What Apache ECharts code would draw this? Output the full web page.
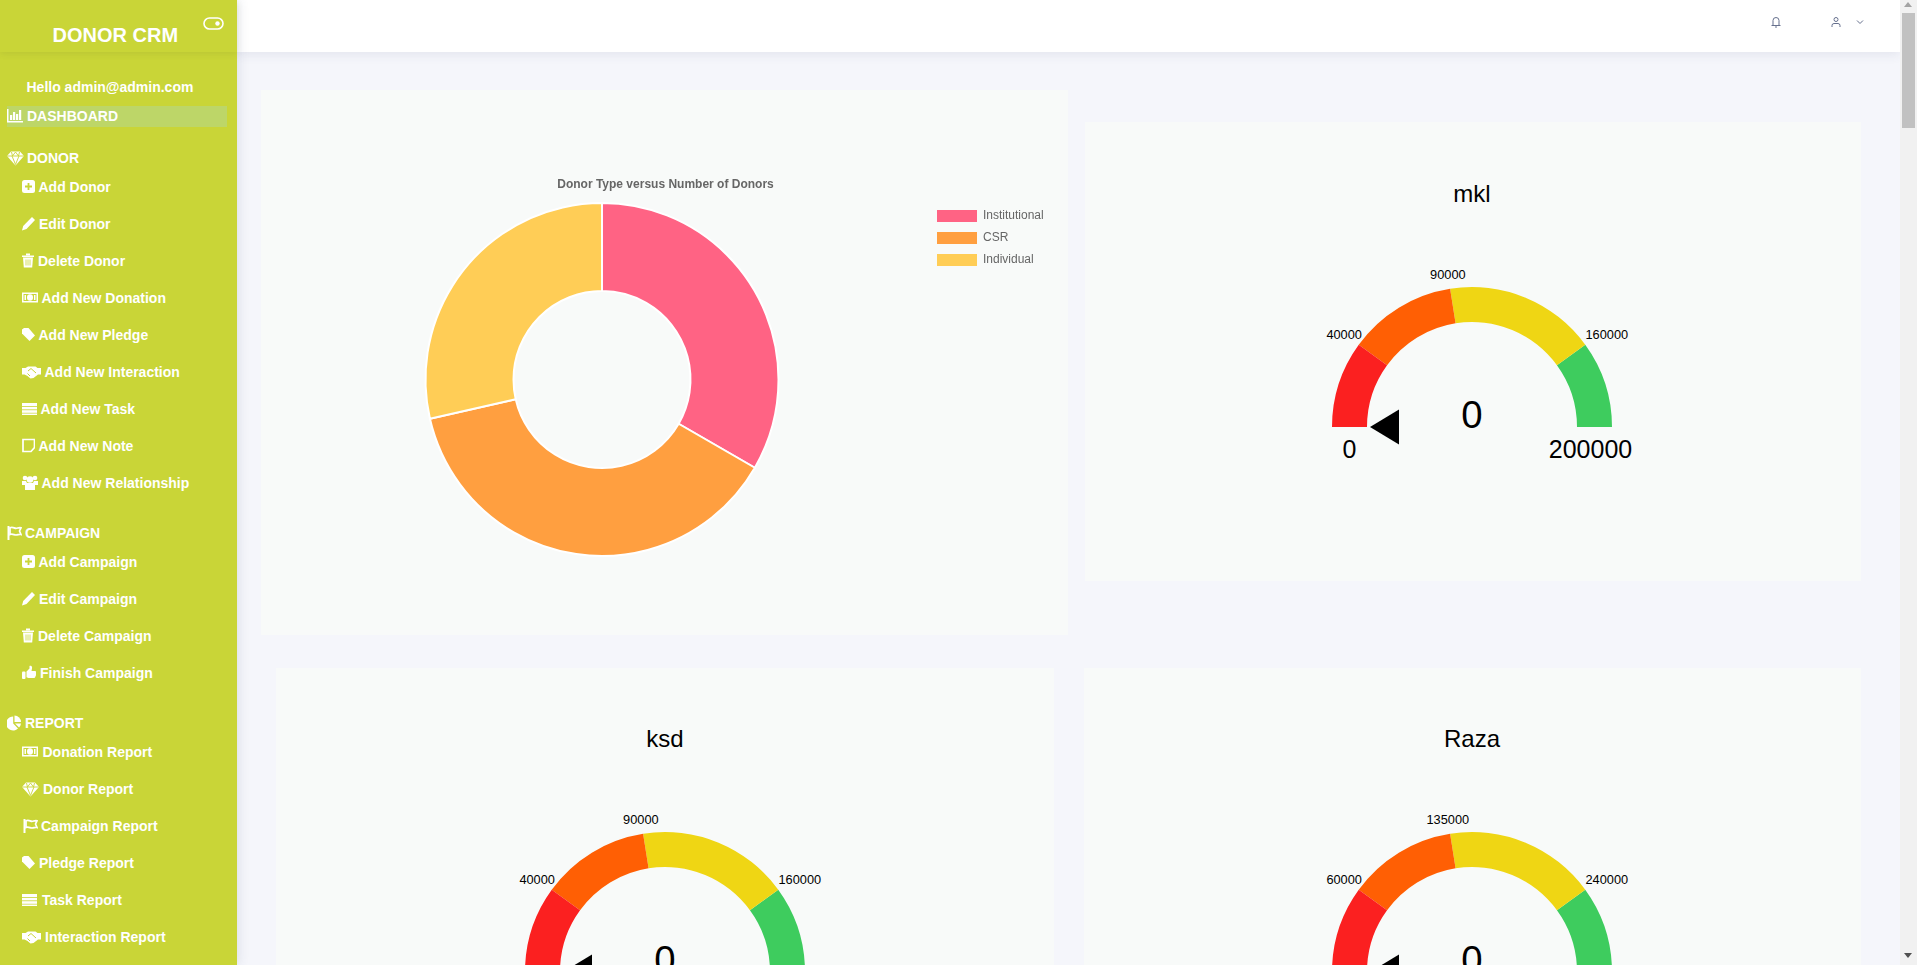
<!DOCTYPE html>
<html>
<head>
<meta charset="utf-8">
<title>DONOR CRM</title>
<script src="https://cdn.jsdelivr.net/npm/echarts@6/dist/echarts.min.js"></script>
<style>
html, body { margin: 0; padding: 0; background: #fff; overflow: hidden; }
body { width: 1917px; height: 969px; position: relative; font-family: "Liberation Sans", Arial, sans-serif; }
#page { position: absolute; left: 0; top: 0; width: 1917px; height: 965px; overflow: hidden; background: #f5f6fb; }
.sidebar { position: absolute; left: 0; top: 0; width: 237px; height: 965px; background: #c9d537; box-shadow: 2px 0 10px rgba(60, 70, 110, .12); z-index: 3; }
.side-head { position: absolute; left: 0; top: 0; width: 237px; height: 52px; background: #c9d537; box-shadow: 0 2px 6px rgba(90, 100, 40, .12); }
.brand { position: absolute; left: 52.5px; top: 23px; font-size: 20px; line-height: 24px; font-weight: bold; color: #fff; }
.active-row { position: absolute; left: 7px; top: 106px; width: 220px; height: 21px; background: #bdd668; }
.nav-text { position: absolute; font-size: 14px; line-height: 18px; font-weight: bold; color: #fff; white-space: nowrap; transform: translateY(-50%); }
.nav-icon { position: absolute; fill: #fff; transform: translateY(-50%); }
.topbar { position: absolute; left: 237px; top: 0; width: 1663px; height: 52px; background: #fff; box-shadow: 0 3px 10px rgba(60, 70, 110, .09); z-index: 2; }
.card { position: absolute; background: #f8faf9; }
.chart { width: 100%; height: 100%; }
.scrollbar { position: absolute; left: 1900px; top: 0; width: 17px; height: 965px; background: #f1f1f1; z-index: 4; }
.thumb { position: absolute; left: 2px; top: 13px; width: 13px; height: 115px; background: #c1c1c1; }
.arrow { position: absolute; left: 4px; width: 0; height: 0; border-left: 4.5px solid transparent; border-right: 4.5px solid transparent; }
.up { top: 2px; border-bottom: 5px solid #a3a3a3; }
.down { top: 953px; border-top: 5px solid #505050; }
</style>
</head>
<body>
<div id="page">
  <div class="sidebar" id="sidebar">
    <div class="side-head"></div>
    <div class="brand">DONOR CRM</div>
    <svg style="position:absolute;left:203px;top:16px" width="21" height="15" viewBox="0 0 21 15">
      <rect x="1" y="2" width="19" height="11" rx="5.5" fill="none" stroke="#fff" stroke-width="1.6"/>
      <circle cx="14.5" cy="7.5" r="2.2" fill="#fff"/>
    </svg>
    <div class="active-row"></div>
  </div>
  <div class="topbar">
    <svg style="position:absolute;left:1533px;top:16px" width="12" height="12" viewBox="0 0 12 12" fill="none" stroke="#67718e" stroke-width="1">
      <path d="M3 9V4.5a3 3 0 0 1 6 0V9M1.5 9.5h9M5 11h2"/>
    </svg>
    <svg style="position:absolute;left:1593px;top:16px" width="12" height="12" viewBox="0 0 12 12" fill="none" stroke="#67718e" stroke-width="1">
      <circle cx="6" cy="3.5" r="2"/><path d="M2 11V9.5a2 2 0 0 1 2-2h4a2 2 0 0 1 2 2V11"/>
    </svg>
    <svg style="position:absolute;left:1619px;top:19px" width="8" height="6" viewBox="0 0 8 6" fill="none" stroke="#67718e" stroke-width="1">
      <path d="M1 1.5l3 3 3-3"/>
    </svg>
  </div>
  <div class="card" style="left:261px;top:90px;width:807px;height:545px"><div class="chart" id="donorPie"></div></div>
  <div class="card" style="left:1085px;top:122px;width:776px;height:459px"><div class="chart" id="gauge0"></div></div>
  <div class="card" style="left:276px;top:668px;width:778px;height:459px"><div class="chart" id="gauge1"></div></div>
  <div class="card" style="left:1084px;top:668px;width:777px;height:459px"><div class="chart" id="gauge2"></div></div>
  <div class="scrollbar"><div class="arrow up"></div><div class="thumb"></div><div class="arrow down"></div></div>
</div>
<script>
// chart data
var donorTypes = ['Institutional', 'CSR', 'Individual'];
var donorCounts = [7, 8, 6];
var donorColors = ['#ff6384', '#ff9f40', '#ffcd56'];

var gaugeNames = ['mkl', 'ksd', 'Raza'];
var gaugeValues = [0, 0, 0];
var gaugeMax = [200000, 200000, 300000];
var gaugeStops = [
    [40000, 90000, 160000],
    [40000, 90000, 160000],
    [60000, 135000, 240000]
];
var gaugeColors = ['#fb2020', '#ff5f04', '#efd614', '#3ecc5e'];

// sidebar: label, icon, y, icon x, icon width, text x
var navItems = [
    ['Hello admin@admin.com', null, 87, 0, 0, 26.5],
    ['DASHBOARD', 'chart', 116, 7, 16, 27],
    ['DONOR', 'gem', 158, 7, 17, 27],
    ['Add Donor', 'plus', 187, 22, 13, 38.5],
    ['Edit Donor', 'pencil', 224, 22, 13, 39],
    ['Delete Donor', 'trash', 261, 22, 12, 38],
    ['Add New Donation', 'money', 298, 22, 16, 41.5],
    ['Add New Pledge', 'tag', 335, 22, 13, 38.5],
    ['Add New Interaction', 'hands', 372, 22, 19, 44.5],
    ['Add New Task', 'list', 409, 22, 15, 40.5],
    ['Add New Note', 'note', 446, 22, 13, 38.5],
    ['Add New Relationship', 'users', 483, 22, 16, 41.5],
    ['CAMPAIGN', 'flag', 533, 7, 15, 25],
    ['Add Campaign', 'plus', 562, 22, 13, 38.5],
    ['Edit Campaign', 'pencil', 599, 22, 13, 39],
    ['Delete Campaign', 'trash', 636, 22, 12, 38],
    ['Finish Campaign', 'thumb', 673, 22, 14, 40],
    ['REPORT', 'pie', 723, 7, 14, 25],
    ['Donation Report', 'money', 752, 22, 16, 42.5],
    ['Donor Report', 'gem', 789, 22, 17, 43],
    ['Campaign Report', 'flag', 826, 23, 15, 41],
    ['Pledge Report', 'tag', 863, 22, 13, 39],
    ['Task Report', 'list', 900, 22, 15, 42],
    ['Interaction Report', 'hands', 937, 22, 19, 45]
];

var icons = {
    chart: '<path d="M0 1h1.5v12H16v1.500H0z"/><rect x="3" y="7" width="2.200" height="5"/><rect x="6" y="4" width="2.200" height="8"/><rect x="9" y="6" width="2.200" height="6"/><rect x="12" y="2" width="2.200" height="10"/>',
    gem: '<path d="M4 1.500h9l4 4.500-8.500 9.500L0 6z"/><path d="M0 6h17M5 6l3.500 8.500L12 6M4.500 2l1 4 3-4 3 4 1-4" fill="none" stroke="#c9d537" stroke-width=".9"/>',
    plus: '<rect x="0" y="1" width="13" height="13" rx="2.500"/><path d="M6.500 4v7M3 7.500h7" stroke="#c9d537" stroke-width="1.800"/>',
    pencil: '<path d="M10 1l3 3-8.500 9L0 14.500 1.200 10z"/>',
    trash: '<rect x="0" y="2.500" width="12" height="1.500"/><rect x="4" y="0.500" width="4" height="2"/><path d="M1 4.500h10l-.8 10H1.800z"/><path d="M4 6.500v6M6 6.500v6M8 6.500v6" stroke="#c9d537" stroke-width=".8"/>',
    money: '<path d="M0 2.500h16v10H0zM1.500 4v7h13V4z" fill-rule="evenodd"/><ellipse cx="8" cy="7.500" rx="3" ry="3.300"/><rect x="2.500" y="5" width="1.500" height="5"/><rect x="12" y="5" width="1.500" height="5"/>',
    tag: '<path d="M0 2.500 2 1h4.500L13 8.500 7.500 14 0 6.500z"/>',
    hands: '<path d="M0 4h3.500l2.500-1.500h5l2.500 0 2 1.500h3.500v6.500H16l-4.500 3.500-3 .5-3-2.500-3-1.500H0z"/><path d="M6 7l3-2.500 5 4.500M5.500 9.500 8 12" fill="none" stroke="#c9d537" stroke-width="1"/>',
    list: '<rect x="0" y="2" width="15" height="3"/><rect x="0" y="5.800" width="15" height="2.600"/><rect x="0" y="9.200" width="15" height="2.600"/><rect x="0" y="12.500" width="15" height="1.500"/>',
    note: '<path d="M1 1.500h11.500v8l-3.500 4h-8z" fill="none" stroke="#fff" stroke-width="1.700"/>',
    users: '<circle cx="3" cy="3" r="2.300"/><circle cx="13" cy="3" r="2.300"/><circle cx="8" cy="4.500" r="3.300"/><path d="M0 6h4l1 2h6l1-2h4v4h-3v5H3v-5H0z"/>',
    flag: '<path d="M.5 1h2v14h-2z"/><path d="M3 2.800c3-1.500 4.500 1 6.500.5s3-1 4.500-.5l-1.500 3.200 1.500 3.500c-2-.5-3 .5-5 .5s-3.500-1.500-6-.5z" fill="none" stroke="#fff" stroke-width="1.700"/>',
    thumb: '<rect x="0" y="6.500" width="3.500" height="7.500" rx="1"/><path d="M4.500 6.500 7.500 3.500V1c1.500-.5 3 .5 2.500 2.500l-.5 2.500h3.500c1.500 0 1.500 2 1 2.500.5 1 .3 2-.5 2.500 0 1-.5 1.500-1 2H6.500l-2-.8z"/>',
    pie: '<path d="M6.200 1.500v7l4.800 5A7 7 0 1 1 6.200 1.500z"/><path d="M7.500.5a6.500 6.500 0 0 1 6.500 6.500H7.500z"/><path d="M8 8.500h6a7 7 0 0 1-2 4z"/>'
};

var sidebar = document.getElementById('sidebar');
navItems.forEach(function(item) {
    var html = '<div class="nav-text" style="left:' + item[5] + 'px;top:' + item[2] + 'px">' + item[0] + '</div>';
    if (item[1]) {
        html += '<svg class="nav-icon" style="left:' + item[3] + 'px;top:' + item[2] + 'px" width="' + item[4] + '" height="16" viewBox="0 0 ' + item[4] + ' 16">' + icons[item[1]] + '</svg>';
    }
    sidebar.insertAdjacentHTML('beforeend', html);
});

var fontName = '"Liberation Sans", Arial, sans-serif';

var pieChart = echarts.init(document.getElementById('donorPie'));
pieChart.setOption({
    animation: false,
    title: {
        text: 'Donor Type versus Number of Donors',
        left: 404.5,
        top: 89,
        padding: 0,
        textAlign: 'center',
        textStyle: { fontFamily: fontName, fontSize: 12, fontWeight: 'bold', color: '#666' }
    },
    legend: {
        orient: 'vertical',
        left: 676,
        top: 120,
        icon: 'rect',
        itemWidth: 40,
        itemHeight: 12,
        itemGap: 10,
        padding: 0,
        itemStyle: { borderWidth: 0 },
        textStyle: { fontFamily: fontName, fontSize: 12, color: '#666', padding: [0, 0, 0, 1] },
        data: donorTypes
    },
    series: [{
        type: 'pie',
        center: [341, 289.5],
        radius: [88.5, 176.5],
        startAngle: 90,
        clockwise: true,
        label: { show: false },
        labelLine: { show: false },
        itemStyle: { borderColor: '#fff', borderWidth: 2 },
        data: donorTypes.map(function(name, i) {
            return { name: name, value: donorCounts[i], itemStyle: { color: donorColors[i] } };
        })
    }]
});

function gaugeOption(i, cx, cy) {
    var max = gaugeMax[i];
    var stops = gaugeStops[i];
    var bands = stops.concat([max]).map(function(stop, k) {
        return [stop / max, gaugeColors[k]];
    });
    var labelRadius = [158, 154.5, 158];
    var labelShift = [0, 0, 7];
    var tickLabels = stops.map(function(stop, k) {
        return { value: [labelRadius[k], stop], label: { color: '#000', fontSize: 12.8, offset: [labelShift[k], 0] } };
    });
    var endLabels = [
        { value: [122.5, 0], label: { color: '#000', fontSize: 25, offset: [0, 22] } },
        { value: [122.5, max], label: { color: '#000', fontSize: 25, offset: [-4, 22] } }
    ];
    return {
        animation: false,
        title: {
            text: gaugeNames[i],
            left: cx,
            top: cy - 246,
            padding: 0,
            textAlign: 'center',
            textStyle: { fontFamily: fontName, fontSize: 24, fontWeight: 'normal', color: '#000' }
        },
        polar: { center: [cx, cy], radius: 200 },
        radiusAxis: { min: 0, max: 200, show: false },
        angleAxis: { type: 'value', min: 0, max: max * 2, startAngle: 180, clockwise: true, show: false },
        series: [{
            type: 'gauge',
            center: [cx, cy],
            radius: 140,
            startAngle: 180,
            endAngle: 0,
            min: 0,
            max: max,
            axisLine: { lineStyle: { width: 35, color: bands } },
            axisTick: { show: false },
            splitLine: { show: false },
            axisLabel: { show: false },
            anchor: { show: false },
            title: { show: false },
            pointer: {
                icon: 'triangle',
                length: 29,
                width: 35,
                offsetCenter: [0, -73],
                itemStyle: { color: '#000' }
            },
            detail: {
                offsetCenter: [0, -12.5],
                fontFamily: fontName,
                fontSize: 38.4,
                fontWeight: 'normal',
                color: '#000',
                formatter: function(v) { return String(v); }
            },
            data: [{ value: gaugeValues[i] }]
        }, {
            type: 'scatter',
            coordinateSystem: 'polar',
            symbolSize: 1,
            silent: true,
            itemStyle: { color: 'transparent' },
            label: {
                show: true,
                position: 'inside',
                fontFamily: fontName,
                color: '#000',
                opacity: 1,
                formatter: function(p) { return String(p.value[1]); }
            },
            data: tickLabels.concat(endLabels)
        }]
    };
}

[[387, 305], [389, 304], [388, 304]].forEach(function(pos, i) {
    var chart = echarts.init(document.getElementById('gauge' + i), null, { renderer: 'svg' });
    chart.setOption(gaugeOption(i, pos[0], pos[1]));
});
</script>
</body>
</html>
